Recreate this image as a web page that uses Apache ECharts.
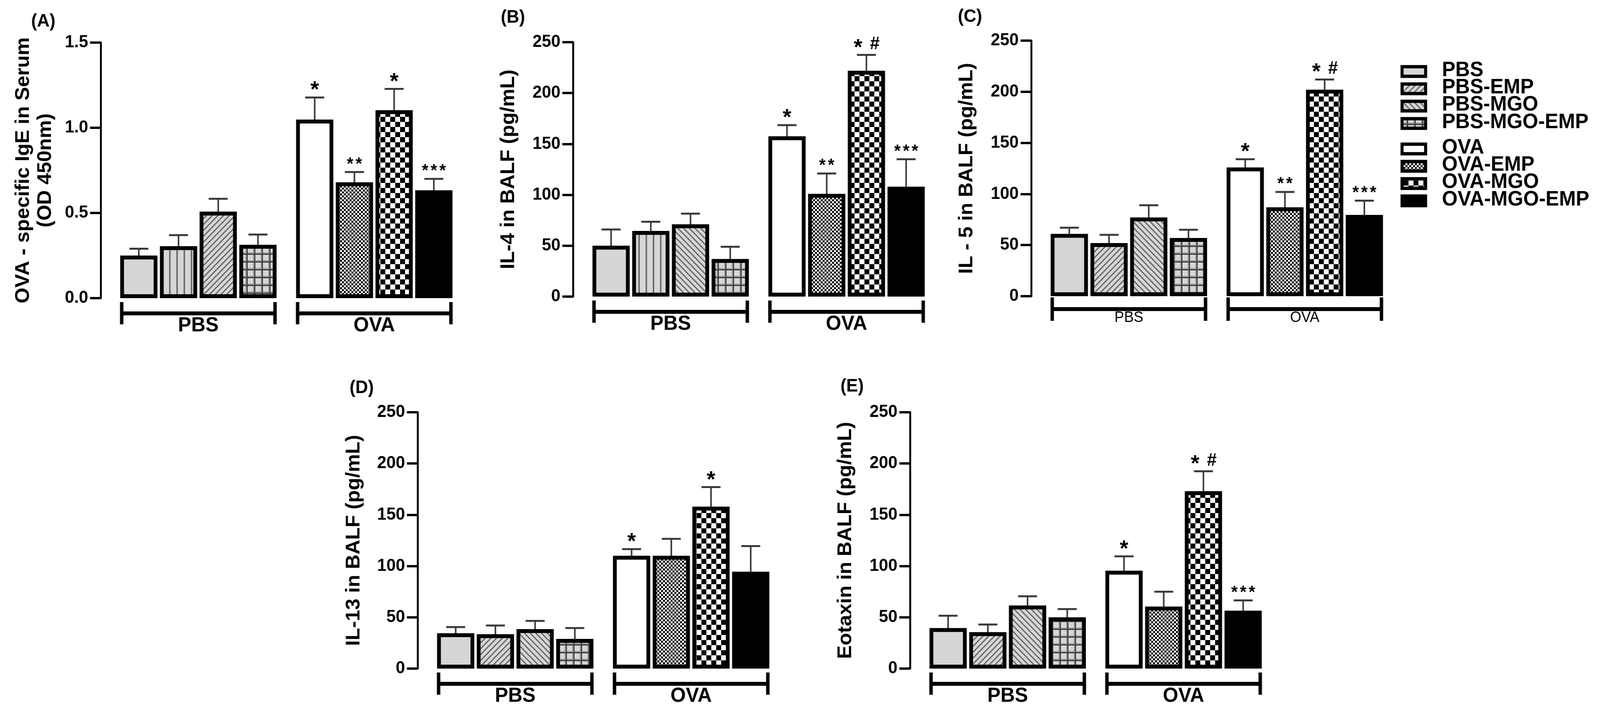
<!DOCTYPE html>
<html>
<head>
<meta charset="utf-8">
<script src="https://cdn.jsdelivr.net/npm/echarts@6/dist/echarts.min.js"></script>
<style>
  html, body { margin: 0; padding: 0; background: #fff; overflow: hidden; }
  #main { width: 4211px; height: 1817px; transform-origin: 0 0; }
</style>
</head>
<body>
<div id="main"></div>
<script>
// ---- data ----
const groups = ["PBS", "OVA"];
const categories = ["PBS", "PBS-EMP", "PBS-MGO", "PBS-MGO-EMP", "OVA", "OVA-EMP", "OVA-MGO", "OVA-MGO-EMP"];

const igeTicks = ["0.0", "0.5", "1.0", "1.5"];
const cytoTicks = ["0", "50", "100", "150", "200", "250"];

// (A) OVA-specific IgE, OD 450nm
const igeMean = [0.25, 0.305, 0.508, 0.313, 1.048, 0.68, 1.103, 0.633];
const igeSem = [0.04, 0.065, 0.075, 0.06, 0.13, 0.06, 0.125, 0.067];
const igeMarks = ["", "", "", "", "*", "**", "*", "***"];

// (B) IL-4, pg/mL
const il4Mean = [50, 64.5, 71, 37, 157.5, 101, 222, 108];
const il4Sem = [16, 9, 10.5, 12, 11, 20, 15.5, 27];
const il4Marks = ["", "", "", "", "*", "**", "* #", "***"];

// (C) IL-5, pg/mL
const il5Mean = [61, 52, 77, 57, 126, 87, 202, 79.5];
const il5Sem = [6, 8, 12, 8, 8, 15, 10, 14];
const il5Marks = ["", "", "", "", "*", "**", "* #", "***"];

// (D) IL-13, pg/mL
const il13Mean = [34.5, 33.5, 38.5, 29, 110, 110, 158, 94.5];
const il13Sem = [6, 8.5, 8, 10.5, 6.5, 16.5, 19, 25];
const il13Marks = ["", "", "", "", "*", "", "*", ""];

// (E) Eotaxin, pg/mL
const eotMean = [39.5, 35.5, 61.5, 50, 95.5, 60.5, 173, 56.5];
const eotSem = [12, 7.5, 9, 8, 14, 14.5, 19.5, 10];
const eotMarks = ["", "", "", "", "*", "", "* #", "***"];

const panels = [
  { label: "(A)", title: "OVA - specific IgE in Serum\n(OD 450nm)", mean: igeMean, sem: igeSem, marks: igeMarks, ticks: igeTicks, step: 0.5 },
  { label: "(B)", title: "IL-4 in BALF (pg/mL)", mean: il4Mean, sem: il4Sem, marks: il4Marks, ticks: cytoTicks, step: 50 },
  { label: "(C)", title: "IL - 5 in BALF (pg/mL)", mean: il5Mean, sem: il5Sem, marks: il5Marks, ticks: cytoTicks, step: 50 },
  { label: "(D)", title: "IL-13 in BALF (pg/mL)", mean: il13Mean, sem: il13Sem, marks: il13Marks, ticks: cytoTicks, step: 50 },
  { label: "(E)", title: "Eotaxin in BALF (pg/mL)", mean: eotMean, sem: eotSem, marks: eotMarks, ticks: cytoTicks, step: 50 }
];

// ---- layout / style ----
const FONT = "'Liberation Sans', Arial, sans-serif";
const layout = [
  { x0: 265, top: 109, base: 763, gap: 116, lx: 82, ly: 32, fills: ["solid", "vert", "fwd", "grid", "white", "fine", "check", "black"] },
  { x0: 1508, top: 108, base: 759, gap: 140, lx: 1318, ly: 22, fills: ["solid", "vert", "back", "grid", "white", "fine", "check", "black"] },
  { x0: 2714, top: 104, base: 758, gap: 140, lx: 2521, ly: 20, small: true, fills: ["solid", "fwd", "back", "grid", "white", "fine", "check", "black"] },
  { x0: 1099, top: 1055, base: 1711, gap: 138, lx: 920, ly: 970, fills: ["solid", "fwd", "back", "grid", "white", "fine", "check", "black"] },
  { x0: 2395, top: 1055, base: 1711, gap: 140, lx: 2212, ly: 966, fills: ["solid", "fwd", "back", "grid", "white", "fine", "check", "black"] }
];
const legendFills = ["solid", "fwd", "back", "grid", "white", "fine", "check", "black"];

const SLOT_PX = 104.5;
const BAR_W = 0.938;      // in slot units
const GROUP_SHIFT = 0.43; // extra slots between PBS and OVA groups
const X_MIN = -0.96, X_MAX = 7.94;
const BORDER = 10;

// the window is narrower than the 4211px figure: squeeze it to fit
const mainEl = document.getElementById("main");
const fit = Math.min(1, window.innerWidth / 4211);
if (fit < 1) mainEl.style.transform = "scaleX(" + fit + ")";

function slotOf(i) {
  return i < 4 ? i : i + GROUP_SHIFT;
}

function makePattern(kind) {
  const c = document.createElement("canvas");
  const ctx = c.getContext("2d");
  if (kind === "vert") {
    c.width = 19; c.height = 10;
    ctx.fillStyle = "#d6d6d6"; ctx.fillRect(0, 0, 19, 10);
    ctx.fillStyle = "#6a6a6a"; ctx.fillRect(8, 0, 4, 10);
  } else if (kind === "fwd" || kind === "back") {
    const s = 15;
    c.width = s; c.height = s;
    ctx.fillStyle = "#d6d6d6"; ctx.fillRect(0, 0, s, s);
    ctx.strokeStyle = "#5c5c5c"; ctx.lineWidth = 3;
    const lines = kind === "fwd"
      ? [[0, s, s, 0], [-s, s, s, -s], [0, 2 * s, 2 * s, 0]]
      : [[0, 0, s, s], [-s, 0, s, 2 * s], [0, -s, 2 * s, s]];
    lines.forEach(l => { ctx.beginPath(); ctx.moveTo(l[0], l[1]); ctx.lineTo(l[2], l[3]); ctx.stroke(); });
  } else if (kind === "grid") {
    c.width = 20; c.height = 20;
    ctx.fillStyle = "#d6d6d6"; ctx.fillRect(0, 0, 20, 20);
    ctx.fillStyle = "#9a9a9a"; ctx.fillRect(6, 0, 3, 20); ctx.fillRect(0, 6, 20, 3);
    ctx.fillStyle = "#3c3c3c"; ctx.fillRect(9, 0, 3, 20); ctx.fillRect(0, 9, 20, 3);
  } else if (kind === "fine" || kind === "check") {
    const s = kind === "fine" ? 5 : 13;
    c.width = 2 * s; c.height = 2 * s;
    ctx.fillStyle = "#fff"; ctx.fillRect(0, 0, 2 * s, 2 * s);
    ctx.fillStyle = "#000"; ctx.fillRect(0, 0, s, s); ctx.fillRect(s, s, s, s);
  }
  return { image: c, repeat: "repeat" };
}

const fillCache = {};
function fillOf(kind) {
  if (kind === "solid") return "#d6d6d6";
  if (kind === "white") return "#ffffff";
  if (kind === "black") return "#000000";
  if (!fillCache[kind]) fillCache[kind] = makePattern(kind);
  return fillCache[kind];
}

// significance marks: single stars big, star runs smaller and spaced, "#" beside a star
function markTexts(mark, x, capY) {
  const out = [];
  const txt = (t, dx, dy, size) => out.push({
    type: "text", x: x + dx, y: capY + dy,
    style: { text: t, fill: "#000", align: "center", verticalAlign: "middle", font: "bold " + size + "px " + FONT }
  });
  if (mark.indexOf("#") >= 0) {
    txt("*", -22, -17, 58);
    txt("#", 22, -27, 46);
  } else if (mark.length === 1) {
    txt("*", 0, -17, 58);
  } else {
    for (let j = 0; j < mark.length; j++) txt("*", (j - (mark.length - 1) / 2) * 23, -19, 44);
  }
  return out;
}

const chart = echarts.init(mainEl, null, { renderer: "canvas" });

const grids = [], xAxes = [], yAxes = [], series = [], titles = [];

panels.forEach((p, k) => {
  const L = layout[k];
  const yMax = p.step * (p.ticks.length - 1);
  grids.push({
    left: L.x0, top: L.top, height: L.base - L.top, width: (X_MAX - X_MIN) * SLOT_PX,
    containLabel: false, outerBoundsMode: "none"
  });
  xAxes.push({ gridIndex: k, type: "value", min: X_MIN, max: X_MAX, show: false });
  yAxes.push({
    gridIndex: k, type: "value", min: 0, max: yMax, interval: p.step,
    axisLine: { show: true, onZero: false, lineStyle: { color: "#000", width: 5 } },
    axisTick: { show: true, length: 28, lineStyle: { color: "#000", width: 6 } },
    splitLine: { show: false },
    axisLabel: {
      color: "#000", fontSize: 44, fontWeight: "bold", fontFamily: FONT, margin: 33,
      formatter: v => p.ticks[Math.round(v / p.step)]
    },
    name: p.title, nameLocation: "middle", nameRotate: 90, nameGap: L.gap,
    nameTextStyle: { color: "#000", fontSize: 52, fontWeight: "bold", fontFamily: FONT, lineHeight: 58 }
  });
  titles.push({
    text: p.label, left: L.lx, top: L.ly, padding: 0,
    textStyle: { color: "#000", fontSize: 46, fontWeight: "bold", fontFamily: FONT }
  });

  // bars + SEM + significance marks
  series.push({
    type: "custom", xAxisIndex: k, yAxisIndex: k, clip: false,
    data: p.mean.map((m, i) => [slotOf(i), m, p.sem[i], i]),
    renderItem: (params, api) => {
      const i = api.value(3);
      const base = api.coord([api.value(0), 0]);
      const top = api.coord([api.value(0), api.value(1)]);
      const hi = api.coord([api.value(0), api.value(1) + api.value(2)]);
      const w = api.size([BAR_W, 0])[0];
      const kind = L.fills[i];
      const mark = p.marks[i];
      let children = [
        { type: "line", shape: { x1: top[0], y1: top[1] + 4, x2: hi[0], y2: hi[1] }, style: { stroke: "#333", lineWidth: 4 } },
        { type: "line", shape: { x1: hi[0] - 25, y1: hi[1], x2: hi[0] + 25, y2: hi[1] }, style: { stroke: "#3a3a3a", lineWidth: 5 } },
        {
          type: "rect",
          shape: { x: top[0] - w / 2 + BORDER / 2, y: top[1] + BORDER / 2, width: w - BORDER, height: base[1] - top[1] - BORDER },
          style: { fill: fillOf(kind), stroke: "#000", lineWidth: BORDER }
        }
      ];
      if (mark) children = children.concat(markTexts(mark, hi[0], hi[1]));
      return { type: "group", children: children };
    }
  });

  // group brackets + group names
  series.push({
    type: "custom", xAxisIndex: k, yAxisIndex: k, clip: false,
    data: groups.map((g, gi) => [slotOf(gi * 4) - BAR_W / 2, slotOf(gi * 4 + 3) + BAR_W / 2, gi]),
    renderItem: (params, api) => {
      const a = api.coord([api.value(0), 0]);
      const b = api.coord([api.value(1), 0]);
      const y0 = a[1];
      const hy = y0 + (L.small ? 33 : 39);
      const v1 = y0 + (L.small ? 3 : 10), v2 = y0 + (L.small ? 63 : 67);
      return {
        type: "group",
        children: [
          { type: "line", shape: { x1: a[0], y1: hy, x2: b[0], y2: hy }, style: { stroke: "#000", lineWidth: 10 } },
          { type: "line", shape: { x1: a[0] + 4, y1: v1, x2: a[0] + 4, y2: v2 }, style: { stroke: "#000", lineWidth: 9 } },
          { type: "line", shape: { x1: b[0] - 4, y1: v1, x2: b[0] - 4, y2: v2 }, style: { stroke: "#000", lineWidth: 9 } },
          {
            type: "text", x: (a[0] + b[0]) / 2, y: y0 + (L.small ? 56 : 71),
            style: {
              text: groups[api.value(2)], fill: "#000", align: "center", verticalAlign: "middle",
              font: L.small ? "38px 'Liberation Sans Narrow', " + FONT : "bold 52px " + FONT
            }
          }
        ]
      };
    }
  });
});

// legend (pattern swatches + names)
const legendItems = [];
categories.forEach((name, i) => {
  const cy = 183 + i * 44.3 + (i >= 4 ? 21 : 0);
  legendItems.push({
    type: "rect", x: 3686, y: cy - 16.5,
    shape: { x: 0, y: 0, width: 70, height: 33 },
    style: { fill: "#000" }
  });
  legendItems.push({
    type: "rect", x: 3694, y: cy - 8,
    shape: { x: 0, y: 0, width: 54, height: 16 },
    style: { fill: fillOf(legendFills[i]) }
  });
  legendItems.push({
    type: "text", x: 3795, y: cy - 3,
    style: { text: name, fill: "#000", font: "bold 53px " + FONT, verticalAlign: "middle" }
  });
});

chart.setOption({
  backgroundColor: "#fff",
  animation: false,
  title: titles,
  grid: grids,
  xAxis: xAxes,
  yAxis: yAxes,
  series: series,
  graphic: legendItems
});
</script>
</body>
</html>
